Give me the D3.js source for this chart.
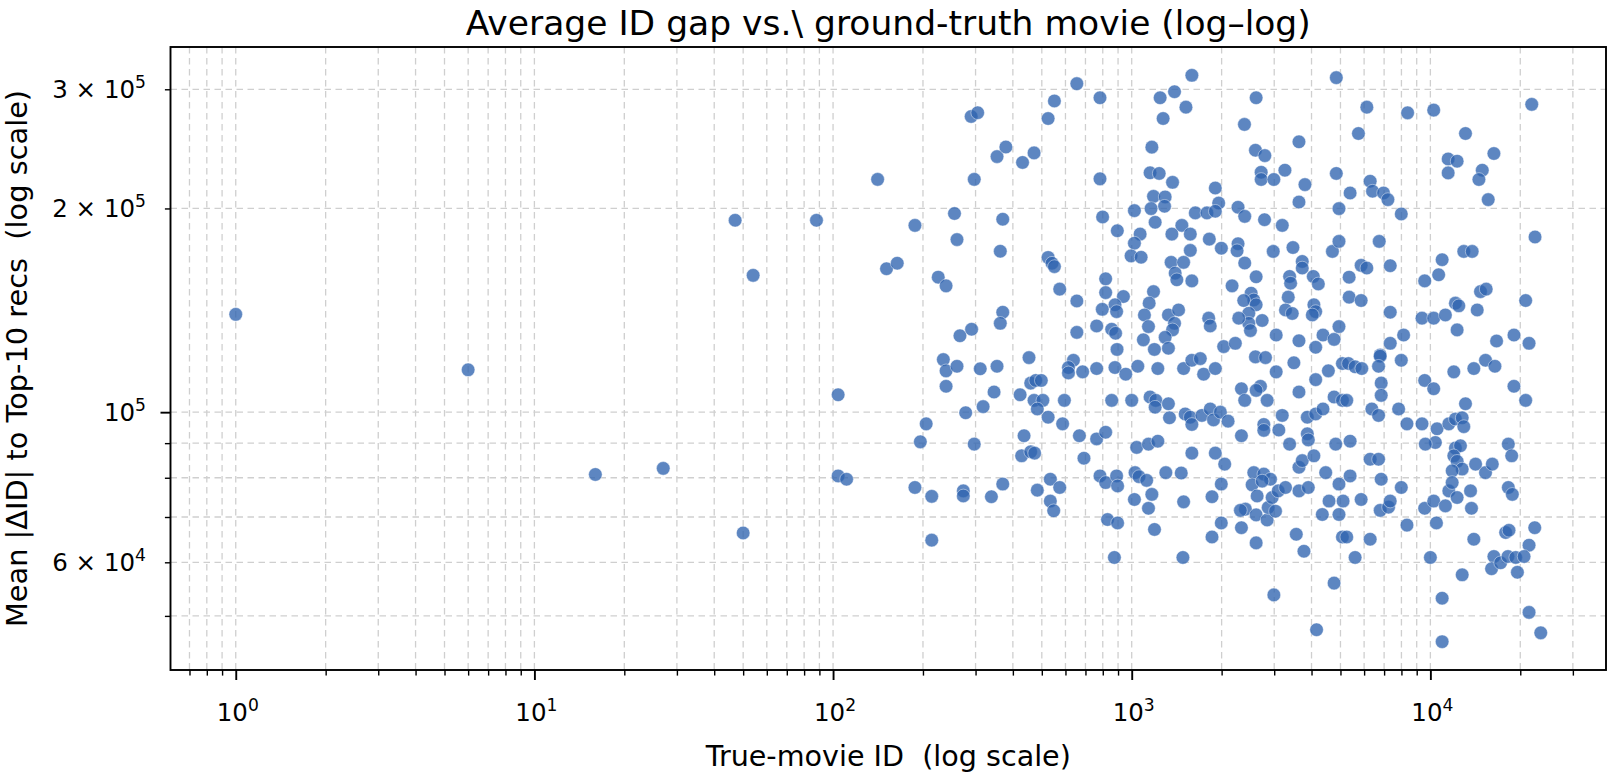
<!DOCTYPE html>
<html>
<head>
<meta charset="utf-8">
<script src="https://cdn.jsdelivr.net/npm/d3@7"></script>
<style>
  html, body { margin: 0; padding: 0; background: #ffffff; }
  svg { display: block; }
  text { font-family: "DejaVu Sans", "Liberation Sans", sans-serif; fill: #000; white-space: pre; }
</style>
</head>
<body>
<svg id="chart" width="1609" height="776"></svg>
<script>
// ---------------- data ----------------
const movieIds = [
  1, 6, 16, 27, 47, 54, 50, 88,
  141, 290, 305, 297, 354, 379, 431, 471, 525, 551,
  655, 188, 255, 260, 370, 363, 151, 164, 225, 239,
  525, 541, 551, 574, 655, 370, 363, 266, 291, 655,
  104, 104, 111, 234, 239, 260, 239, 311, 354, 453,
  346, 318, 278, 205, 196, 297, 188, 214, 273, 273,
  339, 370, 214, 423, 459, 477, 498, 471, 504, 483,
  525, 595, 587, 638, 614, 614, 685, 436, 428, 459,
  473, 534, 574, 483, 534, 548, 668, 692,
  1590, 4842, 783, 1245, 1391, 1519, 1274, 2610, 2385, 3631,
  1168, 2596, 2791, 3258, 2713, 2713, 2992, 1152, 1236, 783,
  1370, 4842, 3802, 1905, 3631, 1183, 1294, 1288, 1161, 1198,
  1955, 1633, 1786, 1905, 2270, 2390, 799, 1021, 2784, 3192,
  4943, 895, 1472, 1363, 1571, 1067, 1021, 995, 1075, 1819,
  1996, 2270, 2253, 2390, 2977, 3466, 4699, 4943, 1571, 1355,
  1492, 3724, 3724, 1398, 1416, 1590, 2610, 3378, 3404, 3343,
  3273, 3448, 4055, 4216, 2168, 818, 818, 1183, 1144, 938,
  879, 890, 797, 763, 857, 883, 2511, 2563, 2372, 2610,
  2466, 2734, 2466, 2498, 2282, 1327, 1435, 1391, 1370, 1294,
  1327, 1103, 1138, 1094, 1191, 1810, 1832, 2032, 2223, 3046,
  3631, 4130, 4370, 4760, 4943, 4074, 4130, 4025, 893,
  763, 879, 955, 1048, 1223, 1492, 1590, 1697, 1741, 1905,
  2596, 2805, 3046, 3491, 4130, 4555, 5076, 857, 1000, 1152,
  1204, 1198, 1327, 1338, 1510, 1571, 1590, 1718, 1832, 1879,
  1981, 2102, 2330, 2390, 2698, 2841, 2610, 3631, 3191, 2769,
  2769, 3109, 3872, 4130, 4370, 3872, 3902, 4760, 5076, 2330,
  763, 818, 1039, 1138, 1223, 1590, 1905, 2048, 3378, 3631,
  3724, 4074, 4819, 783, 818, 890, 897, 1026, 1058, 1122,
  1168, 1021, 1138, 1301, 1465, 1492, 1857, 1995, 2563, 2769,
  2915, 2530, 2630, 2403, 2312, 2610, 2841, 2864, 2953, 3094,
  3273, 3030, 2734, 3631, 3902, 4462, 4578, 4347, 4943, 4943,
  5102, 1995, 1857, 2330, 2610, 3556, 3773, 5076, 830, 897,
  1192, 875, 1484, 2992, 4760, 4159,
  6127, 8391, 10260, 21850, 5743, 13110, 16320, 11470, 12290, 11470,
  14920, 14540, 6286, 6403, 6970, 7208, 5386, 15620, 7991, 22410,
  6741, 12940, 13800, 10950, 10660, 9571, 5864, 6127, 7338, 5346,
  14720, 15380, 5346, 5864, 20850, 12130, 12450, 14350, 7338, 9376,
  10260, 11230, 12290, 8136, 7338, 6792, 16660, 19050, 21400,
  5318, 5598, 5893, 6792, 6706, 7991, 6845, 6845, 9571, 10260,
  11980, 13980, 15300, 16450, 19050, 20850, 5248, 6368, 6706, 7829,
  8349, 9376, 10530, 10390, 9620, 11530, 12130, 12780, 13110, 12940,
  5386, 6286, 6706, 12130, 12610, 11980, 12290, 12780, 11830, 14170,
  15300, 16120, 18240, 18720, 5386, 6845, 5864, 6792, 7244, 7338,
  7991, 9571, 10260, 11230, 11530, 11830, 12290, 13630, 13730, 18240,
  18810, 5248, 6286, 5598, 8349, 10480, 10000, 13980, 12780, 17870,
  18330, 22360, 21400, 16320, 16030, 17190, 18190, 19310, 20590, 19560,
  10950, 21400, 23420, 10950
];

const meanGaps = [
  139500, 115500, 80900, 82600, 192100, 159300, 66300, 192100,
  220800, 273500, 277000, 220800, 238600, 246500, 233900, 241600, 271600, 288300,
  305800, 188800, 196600, 179900, 192800, 172900, 162900, 166000, 158300, 153700,
  169300, 166000, 164100, 152000, 146000, 140500, 135300, 129700, 132600, 131200,
  106100, 80500, 79600, 119600, 115100, 116900, 109200, 115900, 116900, 120400,
  107100, 101900, 99800, 96100, 90400, 89700, 77400, 75100, 76500, 75200,
  75000, 78300, 64700, 106100, 110400, 111400, 111400, 104100, 104100, 101100,
  98300, 104100, 96100, 119300, 116400, 114300, 114700, 92300, 86200, 87400,
  87000, 79600, 77400, 76700, 73900, 71500, 92300, 85500,
  314600, 312100, 291500, 291500, 297500, 282300, 271600, 291500, 266200, 250900,
  246400, 243800, 239400, 227800, 226200, 220700, 220700, 225800, 225300, 221200,
  218600, 225300, 216900, 214400, 204400, 208400, 208000, 201500, 199900, 190800,
  203700, 197000, 197000, 198100, 200800, 194700, 194300, 198500, 192500, 188800,
  199900, 185400, 188800, 183300, 183300, 183300, 177700, 170200, 169400, 180200,
  174700, 177400, 173200, 166100, 172800, 175100, 172800, 178800, 173400, 166500,
  166500, 167000, 163300, 160500, 156900, 156300, 158500, 158700, 155100, 147900,
  141600, 139900, 158700, 154700, 153700, 157400, 150200, 150700, 144900, 148200,
  144100, 140800, 141900, 134100, 132600, 130800, 149900, 146500, 146200, 144100,
  140000, 136600, 135300, 132000, 137700, 139200, 141600, 135300, 132300, 129000,
  124300, 139200, 133800, 127900, 123800, 137700, 134100, 125000, 126400, 130000,
  127500, 124700, 130000, 128100, 133800, 144100, 140800, 139200, 123800,
  116000, 116400, 113800, 116900, 116000, 116000, 119300, 120000, 113800, 116000,
  120700, 120400, 114700, 118300, 111700, 115100, 118000, 104100, 104100, 105300,
  104100, 101700, 102900, 98100, 99400, 98300, 95900, 98900, 101100, 97400,
  100000, 97000, 108300, 104100, 109200, 104100, 107700, 107100, 98900, 95900,
  94000, 94100, 98300, 99400, 101100, 92900, 91000, 105300, 104100, 92300,
  91300, 93400, 88700, 89700, 90600, 87000, 87000, 83800, 89700, 82900,
  84800, 86200, 89700, 80500, 78700, 80500, 77800, 81400, 80300, 79300,
  75600, 74300, 72100, 81400, 81300, 73700, 75000, 78300, 81400, 81000,
  79600, 78100, 75200, 71900, 71600, 70500, 69300, 72300, 74800, 76500,
  77400, 71400, 79100, 76500, 77400, 81400, 73900, 70600, 78300, 70600,
  73900, 68600, 65400, 67500, 64100, 66000, 62300, 65400, 69400, 68600,
  67100, 61000, 61000, 53700, 55900, 47700,
  282300, 276900, 279500, 285000, 258100, 258100, 241100, 236700, 234900, 225700,
  227800, 220700, 219400, 212100, 210800, 206100, 210800, 206100, 196300, 181500,
  178800, 172800, 172800, 168000, 159600, 156300, 164800, 163300, 164600, 158300,
  150700, 152000, 147900, 146200, 146200, 144900, 143600, 141600, 140500, 137700,
  137700, 139200, 132300, 130000, 126400, 121500, 127400, 130000, 126400,
  118000, 116700, 116000, 121000, 116900, 119300, 110400, 105900, 111400, 108300,
  114700, 116000, 119300, 116900, 109200, 104100, 104100, 101100, 98900, 101100,
  96100, 96100, 94500, 90200, 89700, 96100, 97700, 98100, 102900, 95200,
  90600, 85200, 85200, 88500, 89200, 86200, 84600, 82400, 81900, 83800,
  81400, 83800, 89700, 86200, 80500, 79600, 74300, 71600, 72400, 73900,
  77400, 72100, 73900, 72700, 76500, 78700, 74800, 76500, 72100, 77400,
  75600, 65400, 64900, 61000, 68100, 68600, 61000, 64900, 57500, 66400,
  66900, 67500, 63600, 61200, 58700, 59900, 61200, 61000, 61200, 58000,
  53100, 50600, 47200, 45800
];

const xLabeledTicks = [1, 10, 100, 1000, 10000];      // shown as 10^0 ... 10^4
const yLabeledTicks = [60000, 100000, 200000, 300000]; // 6×10^4, 10^5, 2×10^5, 3×10^5

const titleText = "Average ID gap vs.\\ ground-truth movie (log\u2013log)";
const xLabelText = "True-movie ID  (log scale)";
const yLabelText = "Mean |\u0394ID| to Top-10 recs  (log scale)";

// ---------------- layout ----------------
const W = 1609, H = 776;
const plot = { left: 170.5, right: 1606, top: 47, bottom: 670 };
const pointColor = "#3064b0";

if (movieIds.length !== meanGaps.length) console.error("length mismatch", movieIds.length, meanGaps.length);
const points = movieIds.map((id, i) => ({ id, gap: meanGaps[i] }));

function paddedLogDomain(values) {
  const [lo, hi] = d3.extent(values).map(Math.log10);
  const pad = 0.05 * (hi - lo);
  return [Math.pow(10, lo - pad), Math.pow(10, hi + pad)];
}

const x = d3.scaleLog().domain(paddedLogDomain(movieIds)).range([plot.left, plot.right]);
const y = d3.scaleLog().domain(paddedLogDomain(meanGaps)).range([plot.bottom, plot.top]);

function logTicks(domain) {
  const [a, b] = domain;
  const major = [], minor = [];
  for (let e = Math.floor(Math.log10(a)); e <= Math.ceil(Math.log10(b)); e++) {
    for (let k = 1; k <= 9; k++) {
      const v = k * Math.pow(10, e);
      if (v >= a * 0.9999 && v <= b * 1.0001) (k === 1 ? major : minor).push(v);
    }
  }
  return { major, minor };
}
const xt = logTicks(x.domain());
const yt = logTicks(y.domain());

const svg = d3.select("#chart");
svg.append("rect").attr("width", W).attr("height", H).attr("fill", "#fff");

// ---------------- grid ----------------
const grid = svg.append("g").attr("stroke", "#cfcfcf").attr("stroke-width", 1.3)
  .attr("stroke-dasharray", "6.5,4.5").attr("fill", "none");
grid.selectAll("line.vx").data(xt.major.concat(xt.minor)).join("line")
  .attr("x1", d => x(d)).attr("x2", d => x(d))
  .attr("y1", plot.top).attr("y2", plot.bottom);
grid.selectAll("line.hy").data(yt.major.concat(yt.minor)).join("line")
  .attr("y1", d => y(d)).attr("y2", d => y(d))
  .attr("x1", plot.left).attr("x2", plot.right);

// ---------------- points ----------------
svg.append("g").selectAll("circle").data(points).join("circle")
  .attr("cx", d => x(d.id))
  .attr("cy", d => y(d.gap))
  .attr("r", 6.8)
  .attr("fill", pointColor)
  .attr("fill-opacity", 0.78)
  .attr("stroke", "#ffffff")
  .attr("stroke-opacity", 0.55)
  .attr("stroke-width", 0.8);

// ---------------- axes (ticks) ----------------
const xMajorAxis = d3.axisBottom(x).tickValues(xt.major).tickSize(10).tickFormat(() => "");
const xMinorAxis = d3.axisBottom(x).tickValues(xt.minor).tickSize(5.6).tickFormat(() => "");
const yMajorAxis = d3.axisLeft(y).tickValues(yt.major).tickSize(10).tickFormat(() => "");
const yMinorAxis = d3.axisLeft(y).tickValues(yt.minor).tickSize(5.6).tickFormat(() => "");

function styleAxis(g, w) {
  g.select(".domain").remove();
  g.selectAll(".tick line").attr("stroke", "#000").attr("stroke-width", w);
}
svg.append("g").attr("transform", `translate(0,${plot.bottom})`).call(xMajorAxis).call(g => styleAxis(g, 1.9));
svg.append("g").attr("transform", `translate(0,${plot.bottom})`).call(xMinorAxis).call(g => styleAxis(g, 1.4));
svg.append("g").attr("transform", `translate(${plot.left},0)`).call(yMajorAxis).call(g => styleAxis(g, 1.9));
svg.append("g").attr("transform", `translate(${plot.left},0)`).call(yMinorAxis).call(g => styleAxis(g, 1.4));

// ---------------- frame ----------------
svg.append("rect")
  .attr("x", plot.left).attr("y", plot.top)
  .attr("width", plot.right - plot.left).attr("height", plot.bottom - plot.top)
  .attr("fill", "none").attr("stroke", "#000").attr("stroke-width", 1.9);

// ---------------- tick labels ----------------
const tickFont = 24.5;
function powerLabel(sel, mant, exp) {
  if (mant !== 1) sel.append("tspan").text(mant + " \u00d7 ");
  sel.append("tspan").text("10");
  sel.append("tspan").attr("font-size", tickFont * 0.7).attr("dy", -tickFont * 0.42).text(exp);
}
xLabeledTicks.forEach(v => {
  const e = Math.round(Math.log10(v));
  const t = svg.append("text").attr("x", x(v) + 2).attr("y", 721)
    .attr("text-anchor", "middle").attr("font-size", tickFont);
  powerLabel(t, 1, e);
});
yLabeledTicks.forEach(v => {
  const e = Math.floor(Math.log10(v) + 1e-9);
  const m = Math.round(v / Math.pow(10, e));
  const t = svg.append("text").attr("x", 146).attr("y", y(v) + 8.8)
    .attr("text-anchor", "end").attr("font-size", tickFont);
  powerLabel(t, m, e);
});

// ---------------- titles ----------------
svg.append("text").attr("x", (plot.left + plot.right) / 2).attr("y", 35)
  .attr("text-anchor", "middle").attr("font-size", 34.5).text(titleText);
svg.append("text").attr("x", (plot.left + plot.right) / 2).attr("y", 766)
  .attr("text-anchor", "middle").attr("font-size", 28.6).text(xLabelText);
svg.append("text").attr("transform", `translate(27,${(plot.top + plot.bottom) / 2}) rotate(-90)`)
  .attr("text-anchor", "middle").attr("font-size", 28.8).text(yLabelText);
</script>
</body>
</html>
